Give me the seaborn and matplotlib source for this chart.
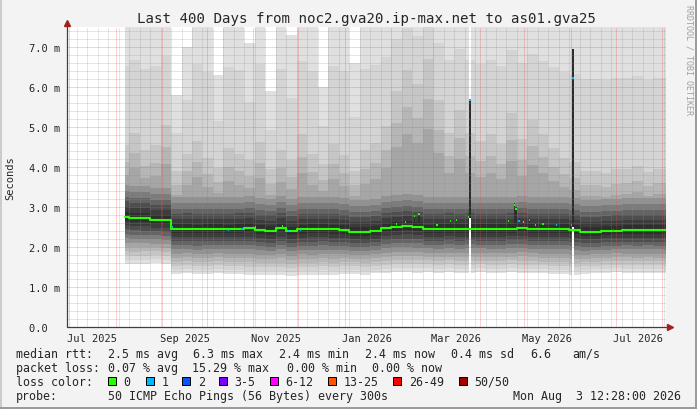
import numpy as np
import pandas as pd
import matplotlib
matplotlib.use("Agg")
import matplotlib.pyplot as plt
import matplotlib.dates as mdates
from matplotlib.ticker import MultipleLocator, NullFormatter
from matplotlib.patches import Rectangle
from matplotlib.lines import Line2D
import seaborn as sns

# ---- data (ms) ----------------------------------------------------------
period_start = pd.Timestamp("2025-06-29 12:28")
period_end = pd.Timestamp("2026-08-03 12:28")

# weekly bins: first one starts when data begins, then Sundays
bin_starts = pd.DatetimeIndex(["2025-08-07"]).append(
    pd.date_range("2025-08-10", "2026-08-02", freq="7D"))

median_ms = [2.76, 2.73, 2.72, 2.68, 2.67,
             2.45, 2.46, 2.44, 2.45, 2.45, 2.44, 2.46, 2.47, 2.42, 2.41,
             2.47, 2.39, 2.44, 2.45, 2.45, 2.44, 2.43, 2.38, 2.38, 2.40,
             2.47, 2.50, 2.52, 2.50, 2.44, 2.45, 2.46, 2.45, 2.46, 2.45,
             2.45, 2.45, 2.46, 2.48, 2.45, 2.44, 2.44, 2.45, 2.43, 2.38,
             2.38, 2.40, 2.41, 2.42, 2.42, 2.42, 2.42, 2.42]
low_ms = [1.58, 1.57, 1.58, 1.60, 1.58,
          1.33, 1.34, 1.32, 1.33, 1.35, 1.33, 1.32, 1.30, 1.31, 1.30, 1.29,
          1.28, 1.30, 1.29, 1.31, 1.30, 1.32, 1.33, 1.31, 1.34,
          1.36, 1.38, 1.37, 1.36, 1.38, 1.36, 1.37, 1.35, 1.36, 1.37, 1.36,
          1.35, 1.37, 1.36, 1.35, 1.34, 1.33,
          1.32, 1.30, 1.33, 1.35, 1.36, 1.37, 1.36, 1.35, 1.36, 1.35, 1.34]
# how far the upper smoke reaches (1.0 = typical week)
upper_scale = [1.05, 1.25, 1.0, 1.1, 1.4,
               0.85, 1.1, 1.3, 1.05, 0.9, 1.2, 1.1, 1.0, 1.3, 0.9,
               1.15, 1.05, 1.4, 1.1, 0.95, 1.25, 1.1, 0.9, 1.2, 1.3,
               1.5, 2.0, 2.3, 2.1, 2.5, 1.9, 1.4, 1.75, 1.4, 1.3,
               1.4, 1.25, 1.7, 1.3, 1.6, 1.4, 1.2, 1.05, 1.0, 0.9,
               0.9, 0.85, 0.9, 0.9, 0.95, 0.85, 0.9, 0.9]
top_ms = [9.0, 9.0, 9.0, 9.0, 9.0,
          5.8, 7.0, 9.0, 9.0, 6.3, 9.0, 9.0, 7.1, 9.0, 5.9,
          9.0, 7.3, 9.0, 9.0, 6.0, 9.0, 9.0, 6.6, 9.0, 9.0,
          9.0, 9.0, 9.0, 9.0, 9.0, 9.0, 9.0, 9.0, 9.0, 9.0,
          9.0, 9.0, 9.0, 9.0, 9.0, 9.0, 9.0, 9.0, 9.0, 9.0,
          9.0, 9.0, 9.0, 9.0, 9.0, 9.0, 9.0, 9.0]

# smoke profile: offsets from the median
core_up = [0.8, 0.65, 0.5, 0.38, 0.25, 0.12]
wide_up = [1.7, 1.3, 1.0]
low_frac = [1.0, 0.91, 0.82, 0.73, 0.64, 0.55, 0.45, 0.36, 0.27, 0.18, 0.09]
shades = ["#e0e0e0", "#d4d4d4", "#c6c6c6", "#b6b6b6", "#a6a6a6", "#929292",
          "#7c7c7c", "#646464", "#4e4e4e", "#3c3c3c", "#2e2e2e"]

# single-day median excursions
spike_dates = ["2025-09-07", "2025-10-15", "2025-10-24", "2025-11-02", "2025-11-20",
               "2025-11-24", "2025-12-02", "2026-02-04", "2026-02-10", "2026-02-16",
               "2026-02-19", "2026-03-03", "2026-03-12", "2026-03-16", "2026-03-24",
               "2026-04-20", "2026-04-24", "2026-04-25", "2026-04-27", "2026-04-30",
               "2026-05-04", "2026-05-08", "2026-05-13", "2026-05-22", "2026-06-01",
               "2026-06-29"]
spike_ms = [2.50, 2.43, 2.45, 2.50, 2.53, 2.40, 2.43, 2.58, 2.62, 2.78,
            2.83, 2.55, 2.65, 2.68, 2.75, 2.65, 3.06, 2.95, 2.65, 2.62,
            2.68, 2.56, 2.57, 2.56, 2.56, 2.42]
spike_loss = [1, 1, 1, 0, 0, 1, 1, 0, 0, 0, 0, 0, 0, 0, 0, 0, 0, 0, 1, 0,
              1, 0, 0, 1, 1, 4]

# the two big latency events
event_dates = ["2026-03-25", "2026-06-02"]
event_median = [5.68, 6.22]
event_low = [2.72, 2.50]
event_high = [5.70, 6.95]
event_clear_top = [True, False]
event_loss = [1, 1]

loss_labels = ["0", "1", "2", "3-5", "6-12", "13-25", "26-49", "50/50"]
loss_colors = ["#26ff00", "#00b8ff", "#0059ff", "#7e00ff", "#ff00ff",
               "#ff5500", "#ff0000", "#a10000"]

y_ticks = [0, 1, 2, 3, 4, 5, 6, 7]
y_tick_labels = ["0.0  ", "1.0 m", "2.0 m", "3.0 m", "4.0 m", "5.0 m", "6.0 m", "7.0 m"]
month_labels = ["Jul 2025", "Sep 2025", "Nov 2025", "Jan 2026", "Mar 2026", "May 2026", "Jul 2026"]
month_label_dates = ["2025-07-16", "2025-09-16", "2025-11-16", "2026-01-16",
                     "2026-03-16", "2026-05-16", "2026-07-16"]

rtt_stats = ["2.5 ms avg", "6.3 ms max", "2.4 ms min", "2.4 ms now", "0.4 ms sd", "6.6", "am/s"]
loss_stats = ["0.07 % avg", "15.29 % max", "0.00 % min", "0.00 % now"]
probe_text = "50 ICMP Echo Pings (56 Bytes) every 300s"
stamp_text = "Mon Aug  3 12:28:00 2026"
title = "Last 400 Days from noc2.gva20.ip-max.net to as01.gva25"

# ---- figure ------------------------------------------------------------
W, H = 697, 410
MONO = "DejaVu Sans Mono"
sns.set_style("white")
plt.rcParams["font.family"] = [MONO, "DejaVu Sans"]


def fx(x):
    return x / W


def fy(y):
    return 1 - y / H


fig = plt.figure(figsize=(W / 100, H / 100), dpi=100)
fig.patch.set_facecolor("#f3f3f3")
ax = fig.add_axes([fx(67), fy(328), 599 / W, 300 / H])
ax.set_facecolor("white")

# smoke: nested quantile bands, outer light -> inner dark
med = np.array(median_ms)
lo = np.array(low_ms)
sc = np.array(upper_scale)
top = np.array(top_ms)
spread = med - lo
wide = [med + w * sc for w in wide_up]
mid_top = (wide[0] + np.minimum(top, 8.5)) / 2
upper = [top, mid_top] + wide + [med + c for c in core_up]
lower = [med - f * spread for f in low_frac]

edges = bin_starts.append(pd.DatetimeIndex([period_end]))
for y1, y2, c in zip(lower, upper, shades):
    ax.fill_between(edges, np.append(y1, y1[-1]), np.append(y2, y2[-1]),
                    step="post", color=c, lw=0, antialiased=False, zorder=1)

# daily median series
days = pd.date_range("2025-08-07", "2026-08-02", freq="D")
bin_idx = bin_starts.searchsorted(days, side="right") - 1
base = pd.Series(med[bin_idx], index=days)
one_day = pd.Timedelta(days=1)

for d, v in zip(spike_dates, spike_ms):
    d = pd.Timestamp(d)
    if v - base[d] > 0.08:
        ax.fill_between([d, d + one_day], base[d], v + 0.05,
                        color=shades[-1], lw=0, antialiased=False, zorder=1.2)

for d, m, l0, h0, clr in zip(event_dates, event_median, event_low, event_high, event_clear_top):
    d = pd.Timestamp(d)
    span = [d, d + one_day]
    ax.fill_between(span, 0, l0, color="white", lw=0, antialiased=False, zorder=1.1)
    if clr:
        ax.fill_between(span, h0, 9, color="white", lw=0, antialiased=False, zorder=1.1)
    ax.fill_between(span, l0, h0, color="#2c2c2c", lw=0, antialiased=False, zorder=1.2)

gx = list(base.index) + [period_end]
gy = list(base.values) + [base.values[-1]]
sns.lineplot(x=gx, y=gy, ax=ax, color=loss_colors[0], lw=1.5,
             drawstyle="steps-post", estimator=None, zorder=4)

for d, v, l in zip(spike_dates + event_dates, spike_ms + event_median, spike_loss + event_loss):
    d = pd.Timestamp(d)
    ax.hlines(v, d, d + one_day, color=loss_colors[l], lw=1.5, zorder=5)

# axes, grid
ax.set_xlim(period_start, period_end)
ax.set_ylim(0, 7.5)
ax.set_xlabel("")
ax.set_ylabel("")
ax.xaxis.set_major_locator(mdates.MonthLocator())
ax.xaxis.set_minor_locator(mdates.WeekdayLocator(byweekday=mdates.SU))
ax.xaxis.set_major_formatter(NullFormatter())
ax.set_yticks(y_ticks, labels=y_tick_labels)
ax.yaxis.set_minor_locator(MultipleLocator(0.2))
ax.grid(which="minor", color="#8f8f8f", alpha=0.45, lw=0.72, ls=(0, (1, 1)))
ax.grid(which="major", color="#f44444", alpha=0.5, lw=0.72, ls=(0, (1, 1)))
ax.set_axisbelow(False)
ax.tick_params(which="both", direction="out", length=2, width=0.7, color="#505050",
               labelsize=7.5, pad=3)
for lab in ax.get_yticklabels():
    lab.set_family(MONO)
for s in ax.spines.values():
    s.set_visible(False)

axis_col = "#4a3a3a"
arrow_col = "#a02020"
ax.plot([0, 0], [0, 1.013], transform=ax.transAxes, color=axis_col, lw=0.9, clip_on=False, zorder=6)
ax.plot([0, 1.007], [0, 0], transform=ax.transAxes, color=axis_col, lw=0.9, clip_on=False, zorder=6)
ax.plot(0, 1.013, marker="^", ms=4, color=arrow_col, transform=ax.transAxes, clip_on=False, zorder=7)
ax.plot(1.007, 0, marker=">", ms=4, color=arrow_col, transform=ax.transAxes, clip_on=False, zorder=7)

for lab, d in zip(month_labels, month_label_dates):
    ax.text(pd.Timestamp(d), (328 - 341.5) / 300, lab, transform=ax.get_xaxis_transform(),
            ha="center", va="baseline", fontsize=7.5, family=MONO)

# texts
fig.text(fx(366.5), fy(23), title, ha="center", va="baseline", fontsize=10.2, family=MONO)
fig.text(fx(10), fy(178), "Seconds", rotation=90, ha="center", va="center", fontsize=7.5, family=MONO)
fig.text(fx(688.5), fy(5), "RRDTOOL / TOBI OETIKER", rotation=270, ha="center", va="top",
         fontsize=6, color="#a0a0a0", family=MONO)

LEG = 8.4
fig.text(fx(16), fy(358), "median rtt:", fontsize=LEG, family=MONO, va="baseline")
for s, x in zip(rtt_stats, [108, 193, 279, 365, 451, 530, 572]):
    fig.text(fx(x), fy(358), s, fontsize=LEG, family=MONO, va="baseline")
fig.text(fx(16), fy(372), "packet loss:", fontsize=LEG, family=MONO, va="baseline")
for s, x in zip(loss_stats, [108, 192, 287, 372]):
    fig.text(fx(x), fy(372), s, fontsize=LEG, family=MONO, va="baseline")
fig.text(fx(16), fy(386), "loss color:", fontsize=LEG, family=MONO, va="baseline")
for lab, c, bx in zip(loss_labels, loss_colors, [108, 145.7, 182.3, 219, 270, 327.7, 393.3, 459]):
    fig.add_artist(Rectangle((fx(bx), fy(386)), 8 / W, 8 / H, transform=fig.transFigure,
                             facecolor=c, edgecolor="black", lw=0.72))
    fig.text(fx(bx + 15.5), fy(386), lab, fontsize=LEG, family=MONO, va="baseline")
fig.text(fx(16), fy(400), "probe:", fontsize=LEG, family=MONO, va="baseline")
fig.text(fx(108), fy(400), probe_text, fontsize=LEG, family=MONO, va="baseline")
fig.text(fx(681), fy(400), stamp_text, fontsize=LEG, family=MONO, va="baseline", ha="right")

# 3d-ish frame
for xs, ys, c in [([0, 1], [0.999, 0.999], "#cbcbcb"), ([0.001, 0.001], [0, 1], "#cbcbcb"),
                  ([0, 1], [0.002, 0.002], "#999999"), ([0.998, 0.998], [0, 1], "#999999")]:
    fig.add_artist(Line2D(xs, ys, transform=fig.transFigure, color=c, lw=1.4))

fig.savefig("out.png", dpi=100, facecolor=fig.get_facecolor())
